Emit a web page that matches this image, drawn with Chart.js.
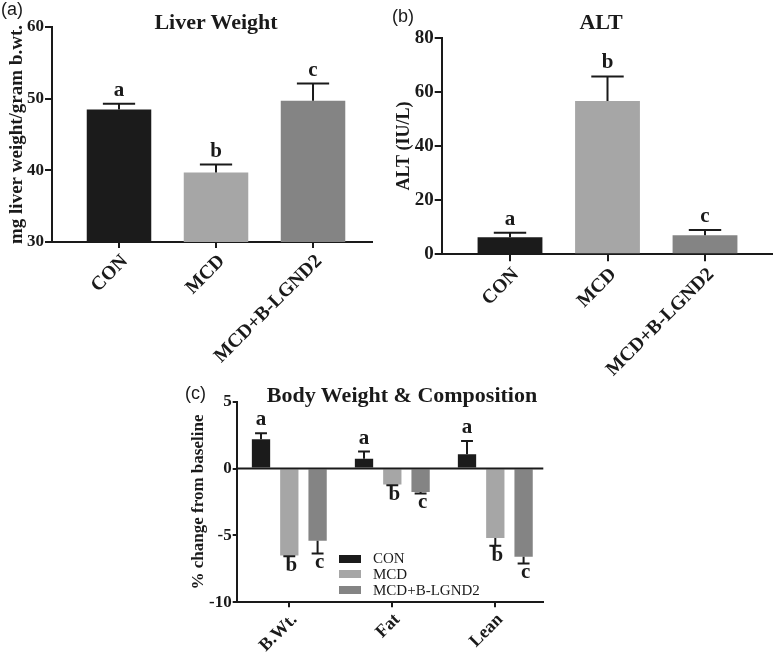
<!DOCTYPE html>
<html>
<head>
<meta charset="utf-8">
<script src="https://cdn.jsdelivr.net/npm/chart.js@4.4.1/dist/chart.umd.min.js"></script>
<style>
  html, body { margin: 0; padding: 0; background: #fff; }
  body { width: 775px; height: 656px; position: relative; overflow: hidden; }
  canvas { position: absolute; }
  .txt { position: absolute; white-space: nowrap; line-height: 1; color: #1a1a1a; }
</style>
</head>
<body>
<canvas id="ca" width="380" height="370" style="left:0;top:0"></canvas>
<canvas id="cb" width="395" height="390" style="left:380px;top:0"></canvas>
<canvas id="cc" width="380" height="286" style="left:180px;top:370px"></canvas>
<script>
// ---------------- DATA ----------------
const groups = ['CON', 'MCD', 'MCD+B-LGND2'];

const liverMean = [48.5, 39.7, 49.7];
const liverErr = [0.8, 1.1, 2.4];
const liverSig = ['a', 'b', 'c'];
const liverTicks = [30, 40, 50, 60];

const altMean = [6.3, 56.6, 7.0];
const altErr = [1.7, 9.1, 2.0];
const altSig = ['a', 'b', 'c'];
const altTicks = [0, 20, 40, 60, 80];

const compCats = ['B.Wt.', 'Fat', 'Lean'];
const conChange = [2.2, 0.73, 1.07];
const conErr = [0.45, 0.54, 1.0];
const conSig = ['a', 'a', 'a'];
const mcdChange = [-6.5, -1.2, -5.2];
const mcdErr = [0.05, 0.05, 0.57];
const mcdSig = ['b', 'b', 'b'];
const combChange = [-5.4, -1.76, -6.6];
const combErr = [0.95, 0.1, 0.5];
const combSig = ['c', 'c', 'c'];
const compTicks = [-10, -5, 0, 5];

const colors = ['#1b1b1b', '#a6a6a6', '#848484'];

// ---------------- STYLE ----------------
const AX = '#1a1a1a';
const SERIF = '"Liberation Serif", "Times New Roman", serif';
const SANS = '"Liberation Sans", Arial, sans-serif';

const errLetters = {
  id: 'errLetters',
  afterDatasetsDraw(chart, args, opts) {
    const ctx = chart.ctx;
    const ys = chart.scales.y;
    chart.data.datasets.forEach((ds, di) => {
      const meta = chart.getDatasetMeta(di);
      meta.data.forEach((bar, i) => {
        const v = ds.data[i].y;
        const e = ds.errors[i];
        const sign = v < 0 ? -1 : 1;
        const y0 = ys.getPixelForValue(v);
        const y1 = ys.getPixelForValue(v + sign * e);
        const half = bar.width * opts.cap / 2;
        ctx.save();
        ctx.strokeStyle = AX;
        ctx.lineWidth = 2;
        ctx.beginPath();
        ctx.moveTo(bar.x, y0);
        ctx.lineTo(bar.x, y1);
        ctx.moveTo(bar.x - half, y1);
        ctx.lineTo(bar.x + half, y1);
        ctx.stroke();
        ctx.fillStyle = AX;
        ctx.font = 'bold ' + opts.size + 'px ' + SERIF;
        ctx.textAlign = 'center';
        if (sign > 0) {
          ctx.textBaseline = 'alphabetic';
          ctx.fillText(ds.letters[i], bar.x, y1 - 8);
        } else {
          ctx.textBaseline = 'top';
          ctx.fillText(ds.letters[i], bar.x + 2, y1 - 1);
        }
        ctx.restore();
      });
    });
  }
};

const zeroLine = {
  id: 'zeroLine',
  afterDatasetsDraw(chart, args, opts) {
    if (!opts.show) return;
    const {ctx, chartArea} = chart;
    const y0 = chart.scales.y.getPixelForValue(0);
    ctx.save();
    ctx.strokeStyle = AX;
    ctx.lineWidth = 2;
    ctx.beginPath();
    ctx.moveTo(chartArea.left, y0);
    ctx.lineTo(chartArea.right, y0);
    ctx.stroke();
    ctx.restore();
  }
};

function barPanel(id, o) {
  const cv = document.getElementById(id);
  const W = cv.width, H = cv.height;
  return new Chart(cv, {
    type: 'bar',
    data: {
      datasets: o.datasets.map(d => ({
        data: d.values.map((v, i) => ({x: i, y: v})),
        backgroundColor: d.color,
        borderWidth: 0,
        errors: d.errors,
        letters: d.letters,
        categoryPercentage: o.catPct,
        barPercentage: o.barPct
      }))
    },
    options: {
      responsive: false,
      animation: false,
      devicePixelRatio: 1,
      layout: {padding: {top: o.top, right: W - o.right, left: 0, bottom: 0}},
      plugins: {
        legend: {display: false},
        tooltip: {enabled: false},
        errLetters: {cap: o.cap, size: 21},
        zeroLine: {show: !!o.zero}
      },
      scales: {
        x: {
          type: 'linear', min: o.xmin, max: o.xmax, offset: false,
          afterBuildTicks: (s) => { s.ticks = o.cats.map((c, i) => ({value: i})); },
          afterFit: (s) => { s.height = H - o.bottom; },
          grid: {display: true, drawOnChartArea: false, drawTicks: true, tickLength: o.xTickLen, lineWidth: 2, color: AX, offset: false},
          border: {display: true, color: AX, width: 2},
          ticks: {
            autoSkip: false, minRotation: 45, maxRotation: 45, padding: 2, color: AX,
            labelOffset: o.labelOffset,
            font: {family: SERIF, weight: 'bold', size: o.xFont},
            callback: (v) => o.cats[v]
          }
        },
        y: {
          min: o.yTicks[0], max: o.yTicks[o.yTicks.length - 1],
          afterBuildTicks: (s) => { s.ticks = o.yTicks.map(v => ({value: v})); },
          afterFit: (s) => { s.width = o.left; },
          grid: {display: true, drawOnChartArea: false, drawTicks: true, tickLength: o.yTickLen, lineWidth: 2, color: AX},
          border: {display: true, color: AX, width: 2},
          ticks: {padding: 1, color: AX, font: {family: SERIF, weight: 'bold', size: o.yFont}},
          title: {
            display: true, text: o.yTitle, color: AX,
            font: {family: SERIF, weight: 'bold', size: o.yTitleSize},
            padding: {top: o.yTitlePad, bottom: 0}
          }
        }
      }
    },
    plugins: [zeroLine, errLetters]
  });
}

barPanel('ca', {
  datasets: [{values: liverMean, errors: liverErr, letters: liverSig, color: colors}],
  cats: groups, yTicks: liverTicks,
  top: 27, bottom: 242, left: 52, right: 372,
  xmin: -0.6907, xmax: 2.608, catPct: 0.95, barPct: 0.7, cap: 0.5,
  xTickLen: 6, yTickLen: 7, xFont: 19.5, yFont: 17, labelOffset: 6,
  yTitle: 'mg liver weight/gram b.wt.', yTitleSize: 19, yTitlePad: 6
});

barPanel('cb', {
  datasets: [{values: altMean, errors: altErr, letters: altSig, color: colors}],
  cats: groups, yTicks: altTicks,
  top: 37.7, bottom: 254.3, left: 61.7, right: 391.7,
  xmin: -0.7005, xmax: 2.684, catPct: 0.95, barPct: 0.7, cap: 0.5,
  xTickLen: 7, yTickLen: 7, xFont: 19.5, yFont: 19, labelOffset: 6,
  yTitle: 'ALT (IU/L)', yTitleSize: 18, yTitlePad: 14
});

barPanel('cc', {
  datasets: [
    {values: conChange, errors: conErr, letters: conSig, color: colors[0]},
    {values: mcdChange, errors: mcdErr, letters: mcdSig, color: colors[1]},
    {values: combChange, errors: combErr, letters: combSig, color: colors[2]}
  ],
  cats: compCats, yTicks: compTicks, zero: true,
  top: 31.7, bottom: 232.3, left: 56.7, right: 363.3,
  xmin: -0.5107, xmax: 2.466, catPct: 0.824, barPct: 0.647, cap: 0.65,
  xTickLen: 5, yTickLen: 4, xFont: 18, yFont: 17, labelOffset: 5,
  yTitle: '% change from baseline', yTitleSize: 17, yTitlePad: 8
});

// ---------------- TEXT (titles, panel tags, legend) ----------------
function addText(text, x, baseline, size, family, weight, anchor) {
  const d = document.createElement('div');
  d.className = 'txt';
  d.textContent = text;
  d.style.fontFamily = family;
  d.style.fontWeight = weight;
  d.style.fontSize = size + 'px';
  const asc = family === SANS ? 0.8465 : 0.8375;
  d.style.top = (baseline - asc * size) + 'px';
  d.style.left = x + 'px';
  if (anchor === 'center') d.style.transform = 'translateX(-50%)';
  document.body.appendChild(d);
}
addText('Liver Weight', 216, 29, 22, SERIF, 'bold', 'center');
addText('ALT', 601, 29, 22, SERIF, 'bold', 'center');
addText('Body Weight & Composition', 402, 402, 22, SERIF, 'bold', 'center');
addText('(a)', 1, 15.5, 18, SANS, 'normal');
addText('(b)', 392, 22.5, 18, SANS, 'normal');
addText('(c)', 185, 399, 18, SANS, 'normal');

groups.forEach((g, i) => {
  const cy = 558.5 + i * 15.8;
  const sw = document.createElement('div');
  sw.style.cssText = 'position:absolute;left:339px;width:22px;height:8px;top:' + (cy - 4) + 'px;background:' + colors[i];
  document.body.appendChild(sw);
  addText(g, 373, cy + 5, 15, SERIF, 'normal');
});
</script>
</body>
</html>
